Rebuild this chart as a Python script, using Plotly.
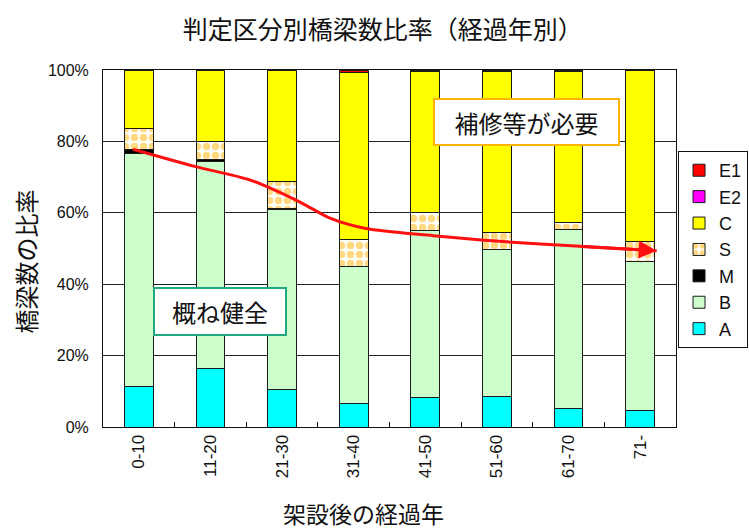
import plotly.graph_objects as go

# Age bands since construction (years)
categories = ["0-10", "11-20", "21-30", "31-40", "41-50", "51-60", "61-70", "71-"]

# Share of bridges per judgement grade (%), bottom to top of each stack
grade_a = [11.3, 16.4, 10.4, 6.6, 8.3, 8.5, 5.2, 4.5]
grade_b = [65.4, 57.9, 50.4, 38.3, 46.7, 41.3, 50.0, 42.0]
grade_m = [0.9, 0.5, 0.3, 0.0, 0.0, 0.0, 0.0, 0.0]
grade_s = [6.1, 5.3, 7.6, 7.7, 5.1, 4.7, 2.0, 5.4]
grade_c = [16.3, 19.9, 31.3, 46.8, 39.5, 45.1, 42.5, 48.1]
grade_e2 = [0.0, 0.0, 0.0, 0.0, 0.0, 0.0, 0.0, 0.0]
grade_e1 = [0.0, 0.0, 0.0, 0.6, 0.4, 0.4, 0.3, 0.0]

# Trend of the "sound" share (category index position, %)
trend_x = [-0.08, 0.78, 1.55, 2.25, 2.67, 3.17, 4.11, 5.04, 6.16, 7.23]
trend_y = [77.8, 73.0, 69.2, 63.0, 58.5, 55.6, 53.6, 52.0, 50.6, 49.4]

y_ticks = [0, 20, 40, 60, 80, 100]
y_tick_text = [f"{v}%" for v in y_ticks]

JP = "Noto Sans CJK JP"
NUM = "Liberation Sans"

series = [
    ("A", grade_a, dict(color="#00FFFF")),
    ("B", grade_b, dict(color="#CCFFCC")),
    ("M", grade_m, dict(color="#000000")),
    ("S", grade_s, dict(color="#FFFFFF",
                        pattern=dict(shape=".", fgcolor="#FFB400", bgcolor="#FFFFFF",
                                     size=9, solidity=0.55))),
    ("C", grade_c, dict(color="#FFFF00")),
    ("E2", grade_e2, dict(color="#FF00FF")),
    ("E1", grade_e1, dict(color="#FF0000")),
]

fig = go.Figure()
for name, vals, style in series:
    fig.add_trace(go.Bar(
        x=categories,
        y=[v if v > 0 else None for v in vals],
        name=name,
        marker=dict(line=dict(color="#1a1a1a", width=1), **style),
        width=0.4,
    ))

fig.add_trace(go.Scatter(
    x=trend_x, y=trend_y, xaxis="x2", yaxis="y",
    mode="lines", line=dict(color="#FF1010", width=3, shape="spline", smoothing=0.8),
    showlegend=False, hoverinfo="skip",
))

annotations = [
    # arrow head at the end of the trend line
    dict(x=trend_x[-1], y=trend_y[-1], ax=trend_x[-2], ay=trend_y[-2],
         xref="x2", yref="y", axref="x2", ayref="y", text="",
         showarrow=True, arrowhead=2, arrowsize=1.2, arrowwidth=3,
         arrowcolor="#FF1010", standoff=0),
    dict(x=5.415, y=85.4, xref="x2", yref="y", text="補修等が必要", showarrow=False,
         font=dict(family=JP, size=24, color="#111111"),
         bgcolor="#FFFFFF", bordercolor="#FFB400", borderwidth=2,
         width=181, height=42, borderpad=1),
    dict(x=1.134, y=32.3, xref="x2", yref="y", text="概ね健全", showarrow=False,
         font=dict(family=JP, size=24, color="#111111"),
         bgcolor="#FFFFFF", bordercolor="#1FA882", borderwidth=2,
         width=128, height=43, borderpad=1),
    dict(x=0.454, y=-0.241, xref="paper", yref="paper", text="架設後の経過年",
         xanchor="center", yanchor="middle",
         showarrow=False, font=dict(family=JP, size=23, color="#111111")),
    dict(x=-0.136, y=0.4636, xref="paper", yref="paper", text="橋梁数の比率",
         xanchor="center", yanchor="middle",
         showarrow=False, textangle=-90, font=dict(family=JP, size=24, color="#111111")),
]

fig.update_layout(
    width=749, height=532,
    margin=dict(l=103, r=73, t=70, b=105, autoexpand=False),
    paper_bgcolor="#FFFFFF", plot_bgcolor="#FFFFFF",
    barmode="stack", bargap=0.6,
    title=dict(text="判定区分別橋梁数比率（経過年別）", x=0.511, xanchor="center",
               y=0.944, yanchor="middle", font=dict(family=JP, size=25, color="#111111")),
    xaxis=dict(type="category", tickson="boundaries", ticks="inside", ticklen=5,
               tickcolor="#111111", tickangle=-90, showgrid=False,
               showline=True, linecolor="#111111", linewidth=1, mirror=True,
               tickfont=dict(family=NUM, size=17, color="#111111"),
               range=[-0.5, 7.5]),
    xaxis2=dict(overlaying="x", range=[-0.5, 7.5], visible=False),
    yaxis=dict(range=[0, 100], tickmode="array", tickvals=y_ticks, ticktext=y_tick_text,
               showgrid=True, gridcolor="#222222", gridwidth=1,
               showline=True, linecolor="#111111", linewidth=1, mirror=True,
               ticks="", ticklabelstandoff=10, zeroline=False,
               tickfont=dict(family=NUM, size=16, color="#111111")),
    legend=dict(x=1.1257, xanchor="right", y=0.773, yanchor="top",
                traceorder="reversed", bordercolor="#111111", borderwidth=1,
                font=dict(family=NUM, size=18, color="#111111"),
                bgcolor="#FFFFFF"),
    annotations=annotations,
    showlegend=True,
)

fig.write_html("out.html")
